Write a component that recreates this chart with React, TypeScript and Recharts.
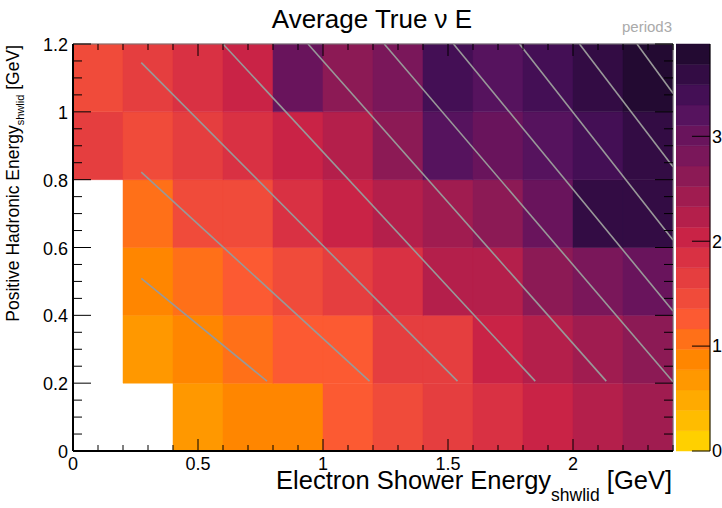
import { ComposedChart, XAxis, YAxis, ReferenceArea, ReferenceLine } from "recharts";

const FONT = "'Liberation Sans', Arial, Helvetica, sans-serif";
const PLOT_W = 600; // 722 - 73 - 49
const PLOT_H = 407; // 508 - 44 - 57

// lower edges of the bins
const xBins = [0, 0.2, 0.4, 0.6, 0.8, 1.0, 1.2, 1.4, 1.6, 1.8, 2.0, 2.2];
const yBins = [0, 0.2, 0.4, 0.6, 0.8, 1.0];
const BIN = 0.2;

// average true nu E per cell, one list per hadronic energy row (null = empty)
const row00 = [null, null, 0.68, 0.87, 0.85, 1.27, 1.45, 1.66, 1.83, 2.05, 2.22, 2.44];
const row02 = [null, 0.66, 0.88, 1.06, 1.25, 1.28, 1.64, 1.67, 2.03, 2.24, 2.42, 2.63];
const row04 = [null, 0.86, 1.08, 1.24, 1.47, 1.63, 1.85, 2.25, 2.21, 2.61, 2.83, 3.02];
const row06 = [null, 1.05, 1.44, 1.47, 1.86, 2.02, 2.26, 2.45, 2.64, 3.0, 3.6, 3.62];
const row08 = [1.64, 1.46, 1.66, 1.84, 2.06, 2.23, 2.6, 3.21, 3.03, 3.19, 3.41, 3.58];
const row10 = [1.45, 1.65, 1.85, 2.04, 3.0, 2.62, 2.8, 3.4, 3.22, 3.38, 3.6, 3.88];
const rows = [row00, row02, row04, row06, row08, row10];

// grey overlay lines (start / end points)
const lineStart = [
  { x: 0.273, y: 0.509 }, { x: 0.273, y: 0.822 }, { x: 0.273, y: 1.145 },
  { x: 0.6, y: 1.2 }, { x: 0.94, y: 1.2 }, { x: 1.245, y: 1.2 },
  { x: 1.522, y: 1.2 }, { x: 1.786, y: 1.2 }, { x: 2.026, y: 1.2 }, { x: 2.256, y: 1.2 },
];
const lineEnd = [
  { x: 0.776, y: 0.206 }, { x: 1.186, y: 0.206 }, { x: 1.538, y: 0.206 },
  { x: 1.849, y: 0.206 }, { x: 2.133, y: 0.206 }, { x: 2.4, y: 0.204 },
  { x: 2.4, y: 0.413 }, { x: 2.4, y: 0.622 }, { x: 2.4, y: 0.838 }, { x: 2.4, y: 1.055 },
];

const xTicks = [0, 0.1, 0.2, 0.3, 0.4, 0.5, 0.6, 0.7, 0.8, 0.9, 1, 1.1, 1.2, 1.3, 1.4, 1.5, 1.6, 1.7, 1.8, 1.9, 2, 2.1, 2.2, 2.3, 2.4];
const yTicks = [0, 0.05, 0.1, 0.15, 0.2, 0.25, 0.3, 0.35, 0.4, 0.45, 0.5, 0.55, 0.6, 0.65, 0.7, 0.75, 0.8, 0.85, 0.9, 0.95, 1, 1.05, 1.1, 1.15, 1.2];
const zTicks = [0, 1, 2, 3];

// 20 contour levels, light to dark
const palette = [
  "#ffd000", "#ffbc00", "#ffaa00", "#ff9800", "#ff8600",
  "#ff7018", "#fc5a32", "#f04b3a", "#e53e3f", "#d93143",
  "#c92346", "#b41f4b", "#a01c50", "#8c1a55", "#7a175a",
  "#69145c", "#56135e", "#440f55", "#330c44", "#230a32",
];

const r1 = (v: number) => Math.round(v * 1000) / 1000;

const cells = rows.flatMap((r, i) =>
  r.map((z, j) => ({ x: xBins[j], y: yBins[i], z })).filter((d) => d.z != null)
) as { x: number; y: number; z: number }[];
const zMax = Math.max(...cells.map((c) => c.z));
const step = zMax / palette.length;
const colorOf = (z: number) => palette[Math.min(palette.length - 1, Math.floor(z / step))];
const bands = palette.map((c, i) => ({ pos: 0.5, lo: i * step, hi: Math.min(zMax, (i + 1) * step), c }));

const isMult = (v: number, m: number) => Math.abs(v / m - Math.round(v / m)) < 1e-6;
const fmt = (v: number) => String(Math.round(v * 10) / 10);

// bottom axis tick, also mirrors the tick onto the top frame edge
function BottomTick(props: any) {
  const { x, y, payload } = props;
  const major = isMult(payload.value, 0.5);
  const len = major ? 12 : 6;
  return (
    <g>
      <line x1={x} y1={y} x2={x} y2={y - len} stroke="#000" />
      <line x1={x} y1={y - PLOT_H} x2={x} y2={y - PLOT_H + len} stroke="#000" />
      {major && (
        <text x={x} y={y + 19} textAnchor="middle" fontSize={18} fill="#000">
          {fmt(payload.value)}
        </text>
      )}
    </g>
  );
}

// left axis tick, also mirrors the tick onto the right frame edge
function LeftTick(props: any) {
  const { x, y, payload } = props;
  const major = isMult(payload.value, 0.2);
  const len = major ? 18 : 9;
  return (
    <g>
      <line x1={x} y1={y} x2={x + len} y2={y} stroke="#000" />
      <line x1={x + PLOT_W} y1={y} x2={x + PLOT_W - len} y2={y} stroke="#000" />
      {major && (
        <text x={x - 5} y={y + 7} textAnchor="end" fontSize={18} fill="#000">
          {fmt(payload.value)}
        </text>
      )}
    </g>
  );
}

export default function App() {
  return (
    <div
      style={{
        position: "absolute",
        left: 0,
        top: 0,
        width: 722,
        height: 508,
        background: "#fff",
        fontFamily: FONT,
        overflow: "hidden",
      }}
    >
      <div style={{ position: "absolute", left: 0, top: 0 }}>
        <ComposedChart width={722} height={508} data={cells} margin={{ top: 44, right: 49, bottom: 0, left: 0 }}>
          {cells.map((c, i) => (
            <ReferenceArea
              key={`cell-${i}`}
              x1={c.x}
              x2={r1(c.x + BIN)}
              y1={c.y}
              y2={r1(c.y + BIN)}
              ifOverflow="visible"
              fill={colorOf(c.z)}
              fillOpacity={1}
              stroke={colorOf(c.z)}
              strokeWidth={0.5}
            />
          ))}
          {lineStart.map((s, i) => (
            <ReferenceLine
              key={`ln-${i}`}
              segment={[s, lineEnd[i]]}
              stroke="#999999"
              strokeWidth={1.6}
              ifOverflow="visible"
            />
          ))}
          <ReferenceLine y={1.2} stroke="#777" strokeWidth={1} ifOverflow="visible" />
          <ReferenceLine x={2.4} stroke="#777" strokeWidth={1} ifOverflow="visible" />
          <XAxis
            type="number"
            dataKey="x"
            domain={[0, 2.4]}
            allowDataOverflow
            ticks={xTicks}
            interval={0}
            height={57}
            tickSize={0}
            tickMargin={0}
            tickLine={false}
            axisLine={{ stroke: "#000", strokeWidth: 2 }}
            tick={<BottomTick />}
          />
          <YAxis
            type="number"
            dataKey="y"
            domain={[0, 1.2]}
            allowDataOverflow
            ticks={yTicks}
            interval={0}
            width={73}
            tickSize={0}
            tickMargin={0}
            tickLine={false}
            axisLine={{ stroke: "#000", strokeWidth: 2 }}
            tick={<LeftTick />}
          />
        </ComposedChart>
      </div>

      <div style={{ position: "absolute", left: 676, top: 0 }}>
        <ComposedChart width={46} height={508} data={bands} margin={{ top: 44, right: 12, bottom: 57, left: 0 }}>
          {bands.map((b, i) => (
            <ReferenceArea
              key={`band-${i}`}
              x1={0}
              x2={1}
              y1={b.lo}
              y2={b.hi}
              ifOverflow="visible"
              fill={b.c}
              fillOpacity={1}
              stroke={b.c}
              strokeWidth={0.5}
            />
          ))}
          <ReferenceLine
            segment={[{ x: 1, y: 0 }, { x: 1, y: zMax }]}
            stroke="#000"
            strokeWidth={1}
            ifOverflow="visible"
          />
          {zTicks.map((t) => (
            <ReferenceLine
              key={`zt-${t}`}
              segment={[{ x: 0.47, y: t }, { x: 1, y: t }]}
              stroke="#000"
              strokeWidth={1}
              ifOverflow="visible"
              label={{ value: String(t), position: "right", offset: 2, fill: "#000", fontSize: 18 }}
            />
          ))}
          <XAxis type="number" dataKey="pos" domain={[0, 1]} allowDataOverflow hide height={0} />
          <YAxis type="number" dataKey="lo" domain={[0, zMax]} allowDataOverflow hide width={0} />
        </ComposedChart>
      </div>

      <svg width={722} height={508} style={{ position: "absolute", left: 0, top: 0, pointerEvents: "none" }}>
        <text x={372} y={28} textAnchor="middle" fontSize={26} fill="#000">
          Average True ν E
        </text>
        <text x={672} y={32} textAnchor="end" fontSize={15} fill="#aaaaaa">
          period3
        </text>
        <text x={672} y={489} textAnchor="end" fontSize={25.5} fill="#000">
          Electron Shower Energy
          <tspan fontSize={17.5} dy={12}>shwlid</tspan>
          <tspan dy={-12}> [GeV]</tspan>
        </text>
        <text transform="rotate(-90)" x={-45} y={19} textAnchor="end" fontSize={17.5} fill="#000">
          Positive Hadronic Energy
          <tspan fontSize={11} dy={5}>shwlid</tspan>
          <tspan dy={-5}> [GeV]</tspan>
        </text>
      </svg>
    </div>
  );
}
